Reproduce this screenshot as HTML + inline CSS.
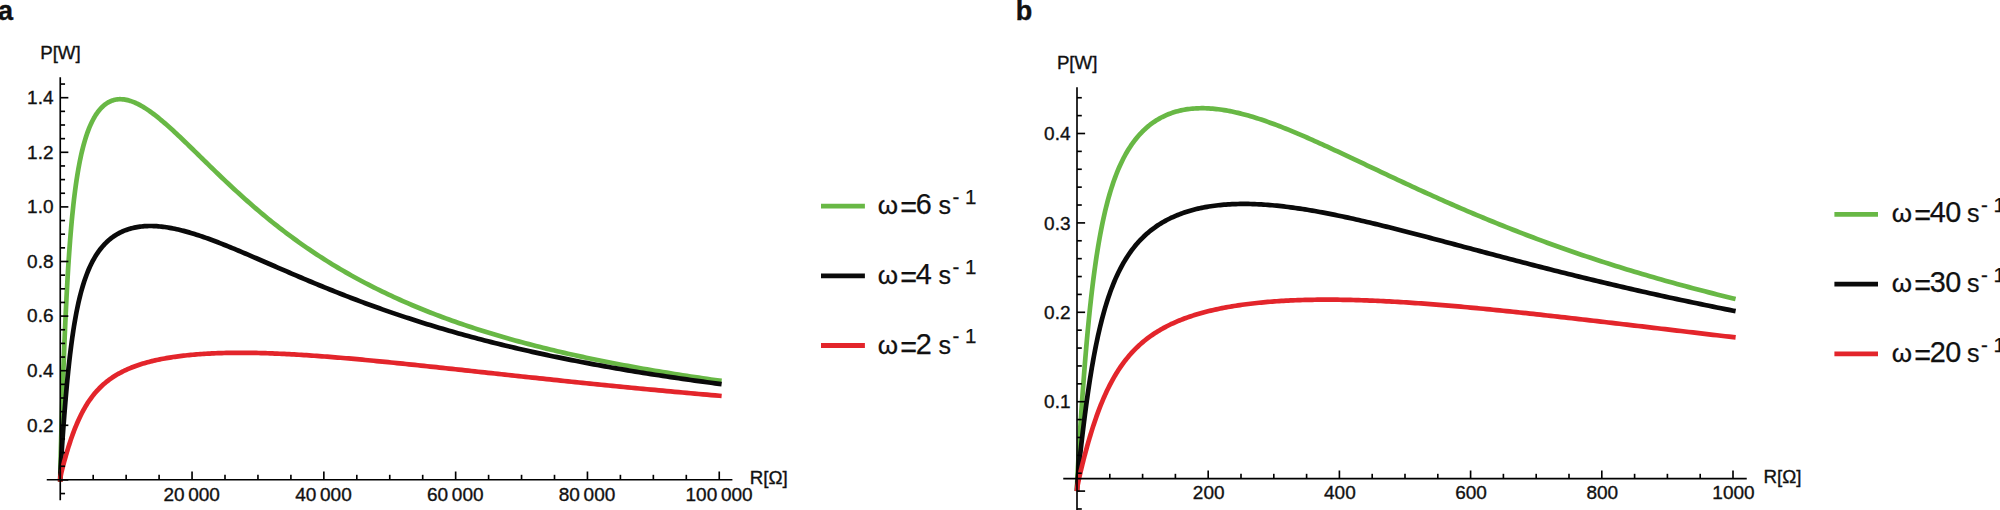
<!DOCTYPE html><html><head><meta charset="utf-8"><title>P vs R</title><style>html,body{margin:0;padding:0;background:#fff}svg{display:block}text{font-family:"Liberation Sans",sans-serif;fill:#111}</style></head><body>
<svg width="2000" height="510" viewBox="0 0 2000 510">
<rect width="2000" height="510" fill="#fff"/>
<text x="-2.00" y="19.90" font-size="27" text-anchor="start" font-weight="bold" stroke="#111" stroke-width="0.4">a</text>
<text x="1015.70" y="19.90" font-size="27" text-anchor="start" font-weight="bold" stroke="#111" stroke-width="0.4">b</text>
<path d="M60.23 481.60 L60.25 479.60 L60.26 477.82 L60.28 475.77 L60.31 473.46 L60.35 470.86 L60.41 467.97 L60.48 464.76 L60.57 461.23 L60.66 457.37 L60.77 453.18 L60.90 448.65 L61.03 443.78 L61.18 438.58 L61.34 433.04 L61.52 427.18 L61.71 421.00 L61.91 414.53 L62.12 407.78 L62.35 400.76 L62.59 393.52 L62.84 386.06 L63.11 378.41 L63.38 370.61 L63.68 362.68 L63.98 354.66 L64.30 346.57 L64.63 338.45 L64.97 330.31 L65.33 322.20 L65.70 314.13 L66.08 306.13 L66.47 298.23 L66.88 290.44 L67.30 282.79 L67.74 275.28 L68.18 267.93 L68.64 260.76 L69.12 253.77 L69.60 246.97 L70.10 240.37 L70.61 233.97 L71.14 227.77 L71.67 221.78 L72.22 215.99 L72.79 210.40 L73.36 205.01 L73.95 199.81 L74.56 194.81 L75.17 190.00 L75.80 185.37 L76.44 180.93 L77.10 176.65 L77.76 172.54 L78.44 168.60 L79.14 164.82 L79.84 161.18 L80.56 157.70 L81.29 154.35 L82.04 151.15 L82.79 148.07 L83.57 145.12 L84.35 142.30 L85.15 139.59 L85.96 137.00 L86.78 134.52 L87.61 132.15 L88.46 129.87 L89.32 127.70 L90.20 125.63 L91.08 123.65 L91.98 121.77 L92.90 119.97 L93.82 118.26 L94.76 116.63 L95.72 115.09 L96.68 113.62 L97.66 112.24 L98.65 110.93 L99.65 109.70 L100.67 108.54 L101.70 107.46 L102.74 106.45 L103.80 105.50 L104.87 104.63 L105.95 103.83 L107.04 103.09 L108.15 102.42 L109.27 101.82 L110.40 101.28 L111.55 100.80 L112.71 100.39 L113.88 100.04 L115.07 99.76 L116.26 99.53 L117.48 99.37 L118.70 99.26 L119.94 99.21 L121.19 99.23 L122.45 99.30 L123.73 99.42 L125.01 99.61 L126.32 99.84 L127.63 100.14 L128.96 100.49 L130.30 100.89 L131.65 101.35 L133.02 101.85 L134.40 102.41 L135.79 103.02 L137.20 103.68 L138.62 104.39 L140.05 105.15 L141.49 105.95 L142.95 106.80 L144.42 107.70 L145.90 108.64 L147.40 109.63 L148.91 110.66 L150.43 111.73 L151.96 112.84 L153.51 113.99 L155.07 115.18 L156.65 116.41 L158.23 117.68 L159.83 118.98 L161.44 120.32 L163.07 121.69 L164.71 123.10 L166.36 124.54 L168.02 126.00 L169.70 127.50 L171.39 129.03 L173.10 130.59 L174.81 132.17 L176.54 133.78 L178.28 135.42 L180.04 137.08 L181.81 138.76 L183.59 140.46 L185.38 142.19 L187.19 143.93 L189.01 145.69 L190.84 147.48 L192.69 149.27 L194.55 151.09 L196.42 152.92 L198.30 154.76 L200.20 156.62 L202.11 158.49 L204.03 160.37 L205.97 162.26 L207.92 164.16 L209.88 166.08 L211.86 167.99 L213.85 169.92 L215.85 171.85 L217.86 173.79 L219.89 175.73 L221.93 177.68 L223.98 179.63 L226.05 181.59 L228.13 183.54 L230.22 185.50 L232.32 187.46 L234.44 189.42 L236.57 191.37 L238.72 193.33 L240.87 195.28 L243.04 197.24 L245.22 199.19 L247.42 201.13 L249.63 203.08 L251.85 205.02 L254.08 206.95 L256.33 208.88 L258.59 210.80 L260.86 212.72 L263.15 214.63 L265.45 216.54 L267.76 218.44 L270.09 220.33 L272.42 222.21 L274.78 224.08 L277.14 225.95 L279.52 227.80 L281.91 229.65 L284.31 231.49 L286.72 233.32 L289.15 235.14 L291.60 236.95 L294.05 238.75 L296.52 240.53 L299.00 242.31 L301.49 244.08 L304.00 245.84 L306.52 247.58 L309.05 249.31 L311.59 251.04 L314.15 252.75 L316.72 254.45 L319.31 256.13 L321.91 257.81 L324.52 259.47 L327.14 261.12 L329.77 262.76 L332.42 264.39 L335.08 266.01 L337.76 267.61 L340.45 269.20 L343.15 270.78 L345.86 272.35 L348.59 273.90 L351.33 275.44 L354.08 276.97 L356.85 278.49 L359.62 279.99 L362.42 281.48 L365.22 282.96 L368.04 284.43 L370.87 285.88 L373.71 287.33 L376.57 288.76 L379.44 290.17 L382.32 291.58 L385.21 292.97 L388.12 294.36 L391.04 295.72 L393.97 297.08 L396.92 298.43 L399.88 299.76 L402.85 301.08 L405.84 302.39 L408.84 303.69 L411.85 304.98 L414.87 306.25 L417.91 307.51 L420.96 308.77 L424.03 310.01 L427.10 311.23 L430.19 312.45 L433.29 313.66 L436.41 314.85 L439.54 316.04 L442.68 317.21 L445.83 318.37 L449.00 319.52 L452.18 320.67 L455.37 321.80 L458.58 322.92 L461.80 324.02 L465.03 325.12 L468.27 326.21 L471.53 327.29 L474.80 328.36 L478.08 329.42 L481.38 330.46 L484.69 331.50 L488.01 332.53 L491.35 333.55 L494.70 334.56 L498.06 335.56 L501.43 336.55 L504.82 337.53 L508.22 338.50 L511.63 339.46 L515.06 340.42 L518.50 341.36 L521.95 342.30 L525.41 343.22 L528.89 344.14 L532.38 345.05 L535.89 345.95 L539.40 346.84 L542.93 347.73 L546.48 348.60 L550.03 349.47 L553.60 350.33 L557.18 351.18 L560.78 352.02 L564.38 352.86 L568.00 353.69 L571.64 354.51 L575.28 355.32 L578.94 356.12 L582.61 356.92 L586.30 357.71 L590.00 358.49 L593.71 359.26 L597.43 360.03 L601.17 360.79 L604.92 361.54 L608.68 362.29 L612.46 363.03 L616.25 363.76 L620.05 364.49 L623.86 365.21 L627.69 365.92 L631.53 366.63 L635.38 367.32 L639.25 368.02 L643.13 368.70 L647.02 369.38 L650.93 370.06 L654.85 370.73 L658.78 371.39 L662.72 372.04 L666.68 372.69 L670.65 373.34 L674.63 373.98 L678.63 374.61 L682.64 375.23 L686.66 375.86 L690.69 376.47 L694.74 377.08 L698.80 377.68 L702.88 378.28 L706.96 378.88 L711.06 379.47 L715.17 380.05 L719.30 380.63 L721.63 380.95" fill="none" stroke="#68b845" stroke-width="4.7" stroke-linejoin="round"/>
<path d="M60.21 481.60 L60.25 479.60 L60.26 478.64 L60.28 477.57 L60.31 476.38 L60.35 475.07 L60.41 473.62 L60.48 472.05 L60.57 470.34 L60.66 468.48 L60.77 466.48 L60.90 464.34 L61.03 462.04 L61.18 459.60 L61.34 457.00 L61.52 454.25 L61.71 451.36 L61.91 448.31 L62.12 445.13 L62.35 441.80 L62.59 438.34 L62.84 434.75 L63.11 431.04 L63.38 427.22 L63.68 423.29 L63.98 419.26 L64.30 415.15 L64.63 410.96 L64.97 406.70 L65.33 402.39 L65.70 398.03 L66.08 393.64 L66.47 389.23 L66.88 384.80 L67.30 380.38 L67.74 375.96 L68.18 371.56 L68.64 367.18 L69.12 362.84 L69.60 358.55 L70.10 354.30 L70.61 350.12 L71.14 345.99 L71.67 341.94 L72.22 337.96 L72.79 334.06 L73.36 330.24 L73.95 326.50 L74.56 322.85 L75.17 319.29 L75.80 315.81 L76.44 312.43 L77.10 309.14 L77.76 305.93 L78.44 302.82 L79.14 299.80 L79.84 296.87 L80.56 294.02 L81.29 291.26 L82.04 288.58 L82.79 285.99 L83.57 283.48 L84.35 281.05 L85.15 278.70 L85.96 276.42 L86.78 274.21 L87.61 272.08 L88.46 270.02 L89.32 268.03 L90.20 266.10 L91.08 264.23 L91.98 262.43 L92.90 260.69 L93.82 259.01 L94.76 257.38 L95.72 255.81 L96.68 254.30 L97.66 252.83 L98.65 251.42 L99.65 250.06 L100.67 248.74 L101.70 247.47 L102.74 246.25 L103.80 245.07 L104.87 243.93 L105.95 242.84 L107.04 241.79 L108.15 240.78 L109.27 239.80 L110.40 238.87 L111.55 237.97 L112.71 237.11 L113.88 236.29 L115.07 235.50 L116.26 234.75 L117.48 234.03 L118.70 233.35 L119.94 232.70 L121.19 232.08 L122.45 231.49 L123.73 230.94 L125.01 230.42 L126.32 229.93 L127.63 229.47 L128.96 229.04 L130.30 228.63 L131.65 228.26 L133.02 227.92 L134.40 227.61 L135.79 227.33 L137.20 227.07 L138.62 226.84 L140.05 226.64 L141.49 226.47 L142.95 226.33 L144.42 226.21 L145.90 226.12 L147.40 226.06 L148.91 226.02 L150.43 226.01 L151.96 226.02 L153.51 226.06 L155.07 226.13 L156.65 226.22 L158.23 226.33 L159.83 226.47 L161.44 226.64 L163.07 226.83 L164.71 227.04 L166.36 227.28 L168.02 227.54 L169.70 227.82 L171.39 228.13 L173.10 228.45 L174.81 228.81 L176.54 229.18 L178.28 229.57 L180.04 229.99 L181.81 230.42 L183.59 230.88 L185.38 231.36 L187.19 231.86 L189.01 232.38 L190.84 232.91 L192.69 233.47 L194.55 234.04 L196.42 234.64 L198.30 235.25 L200.20 235.88 L202.11 236.53 L204.03 237.19 L205.97 237.87 L207.92 238.57 L209.88 239.28 L211.86 240.01 L213.85 240.75 L215.85 241.51 L217.86 242.29 L219.89 243.07 L221.93 243.88 L223.98 244.69 L226.05 245.52 L228.13 246.36 L230.22 247.21 L232.32 248.08 L234.44 248.95 L236.57 249.84 L238.72 250.74 L240.87 251.65 L243.04 252.57 L245.22 253.49 L247.42 254.43 L249.63 255.38 L251.85 256.33 L254.08 257.30 L256.33 258.27 L258.59 259.25 L260.86 260.23 L263.15 261.23 L265.45 262.23 L267.76 263.23 L270.09 264.24 L272.42 265.26 L274.78 266.28 L277.14 267.31 L279.52 268.34 L281.91 269.38 L284.31 270.42 L286.72 271.46 L289.15 272.51 L291.60 273.56 L294.05 274.61 L296.52 275.66 L299.00 276.72 L301.49 277.78 L304.00 278.84 L306.52 279.90 L309.05 280.97 L311.59 282.03 L314.15 283.10 L316.72 284.16 L319.31 285.23 L321.91 286.29 L324.52 287.36 L327.14 288.43 L329.77 289.49 L332.42 290.55 L335.08 291.62 L337.76 292.68 L340.45 293.74 L343.15 294.80 L345.86 295.85 L348.59 296.91 L351.33 297.96 L354.08 299.01 L356.85 300.06 L359.62 301.10 L362.42 302.14 L365.22 303.18 L368.04 304.22 L370.87 305.25 L373.71 306.28 L376.57 307.31 L379.44 308.33 L382.32 309.35 L385.21 310.37 L388.12 311.38 L391.04 312.39 L393.97 313.39 L396.92 314.39 L399.88 315.39 L402.85 316.38 L405.84 317.36 L408.84 318.34 L411.85 319.32 L414.87 320.29 L417.91 321.26 L420.96 322.23 L424.03 323.18 L427.10 324.14 L430.19 325.09 L433.29 326.03 L436.41 326.97 L439.54 327.90 L442.68 328.83 L445.83 329.75 L449.00 330.67 L452.18 331.58 L455.37 332.49 L458.58 333.39 L461.80 334.29 L465.03 335.18 L468.27 336.06 L471.53 336.94 L474.80 337.82 L478.08 338.69 L481.38 339.55 L484.69 340.41 L488.01 341.26 L491.35 342.11 L494.70 342.95 L498.06 343.79 L501.43 344.62 L504.82 345.45 L508.22 346.27 L511.63 347.08 L515.06 347.89 L518.50 348.69 L521.95 349.49 L525.41 350.28 L528.89 351.07 L532.38 351.85 L535.89 352.63 L539.40 353.40 L542.93 354.16 L546.48 354.92 L550.03 355.68 L553.60 356.43 L557.18 357.17 L560.78 357.91 L564.38 358.64 L568.00 359.37 L571.64 360.09 L575.28 360.81 L578.94 361.52 L582.61 362.23 L586.30 362.93 L590.00 363.63 L593.71 364.32 L597.43 365.00 L601.17 365.68 L604.92 366.36 L608.68 367.03 L612.46 367.70 L616.25 368.36 L620.05 369.01 L623.86 369.66 L627.69 370.31 L631.53 370.95 L635.38 371.59 L639.25 372.22 L643.13 372.84 L647.02 373.47 L650.93 374.08 L654.85 374.70 L658.78 375.30 L662.72 375.91 L666.68 376.50 L670.65 377.10 L674.63 377.69 L678.63 378.27 L682.64 378.85 L686.66 379.43 L690.69 380.00 L694.74 380.57 L698.80 381.13 L702.88 381.69 L706.96 382.24 L711.06 382.79 L715.17 383.34 L719.30 383.88 L721.63 384.18" fill="none" stroke="#0a0a0a" stroke-width="4.7" stroke-linejoin="round"/>
<path d="M60.14 481.60 L60.25 479.60 L60.26 479.27 L60.28 478.91 L60.31 478.52 L60.35 478.10 L60.41 477.65 L60.48 477.16 L60.57 476.65 L60.66 476.10 L60.77 475.52 L60.90 474.90 L61.03 474.25 L61.18 473.56 L61.34 472.84 L61.52 472.08 L61.71 471.28 L61.91 470.45 L62.12 469.57 L62.35 468.66 L62.59 467.71 L62.84 466.73 L63.11 465.70 L63.38 464.64 L63.68 463.54 L63.98 462.41 L64.30 461.24 L64.63 460.04 L64.97 458.81 L65.33 457.54 L65.70 456.25 L66.08 454.92 L66.47 453.56 L66.88 452.18 L67.30 450.78 L67.74 449.35 L68.18 447.90 L68.64 446.42 L69.12 444.93 L69.60 443.43 L70.10 441.91 L70.61 440.38 L71.14 438.84 L71.67 437.28 L72.22 435.73 L72.79 434.17 L73.36 432.60 L73.95 431.04 L74.56 429.47 L75.17 427.91 L75.80 426.35 L76.44 424.80 L77.10 423.25 L77.76 421.72 L78.44 420.19 L79.14 418.68 L79.84 417.18 L80.56 415.70 L81.29 414.23 L82.04 412.77 L82.79 411.34 L83.57 409.92 L84.35 408.52 L85.15 407.14 L85.96 405.78 L86.78 404.44 L87.61 403.12 L88.46 401.82 L89.32 400.55 L90.20 399.30 L91.08 398.07 L91.98 396.86 L92.90 395.67 L93.82 394.51 L94.76 393.37 L95.72 392.25 L96.68 391.16 L97.66 390.09 L98.65 389.04 L99.65 388.01 L100.67 387.00 L101.70 386.02 L102.74 385.06 L103.80 384.11 L104.87 383.19 L105.95 382.29 L107.04 381.41 L108.15 380.55 L109.27 379.71 L110.40 378.89 L111.55 378.08 L112.71 377.30 L113.88 376.53 L115.07 375.78 L116.26 375.05 L117.48 374.34 L118.70 373.64 L119.94 372.96 L121.19 372.30 L122.45 371.65 L123.73 371.01 L125.01 370.39 L126.32 369.79 L127.63 369.20 L128.96 368.63 L130.30 368.07 L131.65 367.52 L133.02 366.98 L134.40 366.46 L135.79 365.95 L137.20 365.46 L138.62 364.98 L140.05 364.50 L141.49 364.04 L142.95 363.60 L144.42 363.16 L145.90 362.73 L147.40 362.32 L148.91 361.92 L150.43 361.52 L151.96 361.14 L153.51 360.77 L155.07 360.41 L156.65 360.06 L158.23 359.71 L159.83 359.38 L161.44 359.06 L163.07 358.74 L164.71 358.44 L166.36 358.14 L168.02 357.86 L169.70 357.58 L171.39 357.31 L173.10 357.05 L174.81 356.80 L176.54 356.56 L178.28 356.32 L180.04 356.10 L181.81 355.88 L183.59 355.67 L185.38 355.47 L187.19 355.27 L189.01 355.09 L190.84 354.91 L192.69 354.74 L194.55 354.57 L196.42 354.42 L198.30 354.27 L200.20 354.13 L202.11 353.99 L204.03 353.87 L205.97 353.75 L207.92 353.64 L209.88 353.53 L211.86 353.44 L213.85 353.35 L215.85 353.27 L217.86 353.19 L219.89 353.12 L221.93 353.06 L223.98 353.00 L226.05 352.95 L228.13 352.91 L230.22 352.88 L232.32 352.85 L234.44 352.83 L236.57 352.81 L238.72 352.81 L240.87 352.80 L243.04 352.81 L245.22 352.82 L247.42 352.84 L249.63 352.86 L251.85 352.89 L254.08 352.93 L256.33 352.97 L258.59 353.02 L260.86 353.07 L263.15 353.13 L265.45 353.20 L267.76 353.27 L270.09 353.35 L272.42 353.44 L274.78 353.53 L277.14 353.62 L279.52 353.73 L281.91 353.83 L284.31 353.95 L286.72 354.07 L289.15 354.19 L291.60 354.32 L294.05 354.46 L296.52 354.60 L299.00 354.74 L301.49 354.90 L304.00 355.05 L306.52 355.21 L309.05 355.38 L311.59 355.55 L314.15 355.73 L316.72 355.91 L319.31 356.10 L321.91 356.29 L324.52 356.49 L327.14 356.69 L329.77 356.90 L332.42 357.11 L335.08 357.32 L337.76 357.54 L340.45 357.76 L343.15 357.99 L345.86 358.23 L348.59 358.46 L351.33 358.70 L354.08 358.95 L356.85 359.20 L359.62 359.45 L362.42 359.71 L365.22 359.97 L368.04 360.23 L370.87 360.50 L373.71 360.77 L376.57 361.05 L379.44 361.33 L382.32 361.61 L385.21 361.90 L388.12 362.19 L391.04 362.48 L393.97 362.77 L396.92 363.07 L399.88 363.37 L402.85 363.68 L405.84 363.99 L408.84 364.30 L411.85 364.61 L414.87 364.93 L417.91 365.25 L420.96 365.57 L424.03 365.89 L427.10 366.22 L430.19 366.55 L433.29 366.88 L436.41 367.21 L439.54 367.55 L442.68 367.88 L445.83 368.22 L449.00 368.57 L452.18 368.91 L455.37 369.25 L458.58 369.60 L461.80 369.95 L465.03 370.30 L468.27 370.65 L471.53 371.01 L474.80 371.36 L478.08 371.72 L481.38 372.08 L484.69 372.44 L488.01 372.80 L491.35 373.16 L494.70 373.53 L498.06 373.89 L501.43 374.26 L504.82 374.62 L508.22 374.99 L511.63 375.36 L515.06 375.73 L518.50 376.10 L521.95 376.47 L525.41 376.84 L528.89 377.22 L532.38 377.59 L535.89 377.96 L539.40 378.34 L542.93 378.71 L546.48 379.09 L550.03 379.46 L553.60 379.84 L557.18 380.21 L560.78 380.59 L564.38 380.97 L568.00 381.34 L571.64 381.72 L575.28 382.10 L578.94 382.47 L582.61 382.85 L586.30 383.23 L590.00 383.60 L593.71 383.98 L597.43 384.36 L601.17 384.73 L604.92 385.11 L608.68 385.49 L612.46 385.86 L616.25 386.24 L620.05 386.61 L623.86 386.98 L627.69 387.36 L631.53 387.73 L635.38 388.10 L639.25 388.48 L643.13 388.85 L647.02 389.22 L650.93 389.59 L654.85 389.96 L658.78 390.33 L662.72 390.70 L666.68 391.07 L670.65 391.43 L674.63 391.80 L678.63 392.17 L682.64 392.53 L686.66 392.90 L690.69 393.26 L694.74 393.62 L698.80 393.98 L702.88 394.34 L706.96 394.70 L711.06 395.06 L715.17 395.42 L719.30 395.78 L721.64 395.98" fill="none" stroke="#e3252b" stroke-width="4.7" stroke-linejoin="round"/>
<line x1="46.75" y1="479.70" x2="732.40" y2="479.70" stroke="#000" stroke-width="1.65"/>
<line x1="60.25" y1="77.20" x2="60.25" y2="500.30" stroke="#000" stroke-width="1.65"/>
<line x1="60.25" y1="479.60" x2="60.25" y2="471.50" stroke="#000" stroke-width="1.65"/>
<line x1="93.20" y1="479.60" x2="93.20" y2="474.80" stroke="#000" stroke-width="1.65"/>
<line x1="126.15" y1="479.60" x2="126.15" y2="474.80" stroke="#000" stroke-width="1.65"/>
<line x1="159.10" y1="479.60" x2="159.10" y2="474.80" stroke="#000" stroke-width="1.65"/>
<line x1="192.05" y1="479.60" x2="192.05" y2="471.50" stroke="#000" stroke-width="1.65"/>
<line x1="225.00" y1="479.60" x2="225.00" y2="474.80" stroke="#000" stroke-width="1.65"/>
<line x1="257.95" y1="479.60" x2="257.95" y2="474.80" stroke="#000" stroke-width="1.65"/>
<line x1="290.90" y1="479.60" x2="290.90" y2="474.80" stroke="#000" stroke-width="1.65"/>
<line x1="323.85" y1="479.60" x2="323.85" y2="471.50" stroke="#000" stroke-width="1.65"/>
<line x1="356.80" y1="479.60" x2="356.80" y2="474.80" stroke="#000" stroke-width="1.65"/>
<line x1="389.75" y1="479.60" x2="389.75" y2="474.80" stroke="#000" stroke-width="1.65"/>
<line x1="422.70" y1="479.60" x2="422.70" y2="474.80" stroke="#000" stroke-width="1.65"/>
<line x1="455.65" y1="479.60" x2="455.65" y2="471.50" stroke="#000" stroke-width="1.65"/>
<line x1="488.60" y1="479.60" x2="488.60" y2="474.80" stroke="#000" stroke-width="1.65"/>
<line x1="521.55" y1="479.60" x2="521.55" y2="474.80" stroke="#000" stroke-width="1.65"/>
<line x1="554.50" y1="479.60" x2="554.50" y2="474.80" stroke="#000" stroke-width="1.65"/>
<line x1="587.45" y1="479.60" x2="587.45" y2="471.50" stroke="#000" stroke-width="1.65"/>
<line x1="620.40" y1="479.60" x2="620.40" y2="474.80" stroke="#000" stroke-width="1.65"/>
<line x1="653.35" y1="479.60" x2="653.35" y2="474.80" stroke="#000" stroke-width="1.65"/>
<line x1="686.30" y1="479.60" x2="686.30" y2="474.80" stroke="#000" stroke-width="1.65"/>
<line x1="719.25" y1="479.60" x2="719.25" y2="471.50" stroke="#000" stroke-width="1.65"/>
<line x1="60.25" y1="493.55" x2="65.05" y2="493.55" stroke="#000" stroke-width="1.65"/>
<line x1="60.25" y1="479.90" x2="68.35" y2="479.90" stroke="#000" stroke-width="1.65"/>
<line x1="60.25" y1="466.25" x2="65.05" y2="466.25" stroke="#000" stroke-width="1.65"/>
<line x1="60.25" y1="452.60" x2="65.05" y2="452.60" stroke="#000" stroke-width="1.65"/>
<line x1="60.25" y1="438.95" x2="65.05" y2="438.95" stroke="#000" stroke-width="1.65"/>
<line x1="60.25" y1="425.30" x2="68.35" y2="425.30" stroke="#000" stroke-width="1.65"/>
<line x1="60.25" y1="411.65" x2="65.05" y2="411.65" stroke="#000" stroke-width="1.65"/>
<line x1="60.25" y1="398.00" x2="65.05" y2="398.00" stroke="#000" stroke-width="1.65"/>
<line x1="60.25" y1="384.35" x2="65.05" y2="384.35" stroke="#000" stroke-width="1.65"/>
<line x1="60.25" y1="370.70" x2="68.35" y2="370.70" stroke="#000" stroke-width="1.65"/>
<line x1="60.25" y1="357.05" x2="65.05" y2="357.05" stroke="#000" stroke-width="1.65"/>
<line x1="60.25" y1="343.40" x2="65.05" y2="343.40" stroke="#000" stroke-width="1.65"/>
<line x1="60.25" y1="329.75" x2="65.05" y2="329.75" stroke="#000" stroke-width="1.65"/>
<line x1="60.25" y1="316.10" x2="68.35" y2="316.10" stroke="#000" stroke-width="1.65"/>
<line x1="60.25" y1="302.45" x2="65.05" y2="302.45" stroke="#000" stroke-width="1.65"/>
<line x1="60.25" y1="288.80" x2="65.05" y2="288.80" stroke="#000" stroke-width="1.65"/>
<line x1="60.25" y1="275.15" x2="65.05" y2="275.15" stroke="#000" stroke-width="1.65"/>
<line x1="60.25" y1="261.50" x2="68.35" y2="261.50" stroke="#000" stroke-width="1.65"/>
<line x1="60.25" y1="247.85" x2="65.05" y2="247.85" stroke="#000" stroke-width="1.65"/>
<line x1="60.25" y1="234.20" x2="65.05" y2="234.20" stroke="#000" stroke-width="1.65"/>
<line x1="60.25" y1="220.55" x2="65.05" y2="220.55" stroke="#000" stroke-width="1.65"/>
<line x1="60.25" y1="206.90" x2="68.35" y2="206.90" stroke="#000" stroke-width="1.65"/>
<line x1="60.25" y1="193.25" x2="65.05" y2="193.25" stroke="#000" stroke-width="1.65"/>
<line x1="60.25" y1="179.60" x2="65.05" y2="179.60" stroke="#000" stroke-width="1.65"/>
<line x1="60.25" y1="165.95" x2="65.05" y2="165.95" stroke="#000" stroke-width="1.65"/>
<line x1="60.25" y1="152.30" x2="68.35" y2="152.30" stroke="#000" stroke-width="1.65"/>
<line x1="60.25" y1="138.65" x2="65.05" y2="138.65" stroke="#000" stroke-width="1.65"/>
<line x1="60.25" y1="125.00" x2="65.05" y2="125.00" stroke="#000" stroke-width="1.65"/>
<line x1="60.25" y1="111.35" x2="65.05" y2="111.35" stroke="#000" stroke-width="1.65"/>
<line x1="60.25" y1="97.70" x2="68.35" y2="97.70" stroke="#000" stroke-width="1.65"/>
<line x1="60.25" y1="84.05" x2="65.05" y2="84.05" stroke="#000" stroke-width="1.65"/>
<text x="53.50" y="431.60" font-size="19" text-anchor="end" stroke="#111" stroke-width="0.35">0.2</text>
<text x="53.50" y="377.00" font-size="19" text-anchor="end" stroke="#111" stroke-width="0.35">0.4</text>
<text x="53.50" y="322.40" font-size="19" text-anchor="end" stroke="#111" stroke-width="0.35">0.6</text>
<text x="53.50" y="267.80" font-size="19" text-anchor="end" stroke="#111" stroke-width="0.35">0.8</text>
<text x="53.50" y="213.20" font-size="19" text-anchor="end" stroke="#111" stroke-width="0.35">1.0</text>
<text x="53.50" y="158.60" font-size="19" text-anchor="end" stroke="#111" stroke-width="0.35">1.2</text>
<text x="53.50" y="104.00" font-size="19" text-anchor="end" stroke="#111" stroke-width="0.35">1.4</text>
<text x="191.65" y="501.00" font-size="19" text-anchor="middle" stroke="#111" stroke-width="0.35">20<tspan dx="3.7">000</tspan></text>
<text x="323.45" y="501.00" font-size="19" text-anchor="middle" stroke="#111" stroke-width="0.35">40<tspan dx="3.7">000</tspan></text>
<text x="455.25" y="501.00" font-size="19" text-anchor="middle" stroke="#111" stroke-width="0.35">60<tspan dx="3.7">000</tspan></text>
<text x="587.05" y="501.00" font-size="19" text-anchor="middle" stroke="#111" stroke-width="0.35">80<tspan dx="3.7">000</tspan></text>
<text x="719.10" y="501.00" font-size="19" text-anchor="middle" stroke="#111" stroke-width="0.35">100<tspan dx="3.7">000</tspan></text>
<text x="40.20" y="59.00" font-size="18.7" text-anchor="start" stroke="#111" stroke-width="0.35">P[W]</text>
<text x="749.70" y="483.60" font-size="18.8" text-anchor="start" stroke="#111" stroke-width="0.35">R[&#937;]</text>
<path d="M1077.00 491.10 L1077.01 489.88 L1077.03 488.55 L1077.06 487.08 L1077.10 485.49 L1077.16 483.76 L1077.23 481.89 L1077.32 479.87 L1077.41 477.71 L1077.52 475.39 L1077.64 472.92 L1077.78 470.29 L1077.93 467.50 L1078.09 464.55 L1078.26 461.44 L1078.45 458.16 L1078.65 454.72 L1078.86 451.12 L1079.09 447.35 L1079.33 443.43 L1079.58 439.35 L1079.84 435.12 L1080.12 430.75 L1080.41 426.23 L1080.71 421.58 L1081.03 416.79 L1081.36 411.89 L1081.70 406.87 L1082.06 401.75 L1082.42 396.52 L1082.80 391.21 L1083.20 385.83 L1083.60 380.37 L1084.02 374.85 L1084.46 369.29 L1084.90 363.68 L1085.36 358.05 L1085.83 352.40 L1086.31 346.74 L1086.81 341.08 L1087.32 335.42 L1087.84 329.79 L1088.38 324.18 L1088.92 318.61 L1089.49 313.08 L1090.06 307.60 L1090.65 302.17 L1091.25 296.81 L1091.86 291.52 L1092.49 286.29 L1093.12 281.15 L1093.77 276.09 L1094.44 271.11 L1095.12 266.22 L1095.81 261.42 L1096.51 256.71 L1097.23 252.10 L1097.95 247.58 L1098.70 243.16 L1099.45 238.84 L1100.22 234.62 L1101.00 230.50 L1101.79 226.47 L1102.60 222.54 L1103.42 218.71 L1104.25 214.97 L1105.09 211.33 L1105.95 207.78 L1106.82 204.32 L1107.71 200.96 L1108.60 197.68 L1109.51 194.49 L1110.43 191.39 L1111.37 188.37 L1112.32 185.43 L1113.28 182.57 L1114.25 179.80 L1115.24 177.10 L1116.24 174.47 L1117.25 171.92 L1118.28 169.44 L1119.31 167.03 L1120.37 164.69 L1121.43 162.42 L1122.51 160.21 L1123.60 158.06 L1124.70 155.98 L1125.82 153.95 L1126.94 151.99 L1128.09 150.08 L1129.24 148.23 L1130.41 146.43 L1131.59 144.69 L1132.78 142.99 L1133.99 141.35 L1135.21 139.76 L1136.44 138.22 L1137.68 136.73 L1138.94 135.28 L1140.21 133.87 L1141.49 132.52 L1142.79 131.20 L1144.10 129.93 L1145.42 128.71 L1146.76 127.52 L1148.10 126.37 L1149.47 125.27 L1150.84 124.20 L1152.23 123.17 L1153.63 122.18 L1155.04 121.23 L1156.46 120.32 L1157.90 119.44 L1159.35 118.60 L1160.82 117.79 L1162.29 117.02 L1163.78 116.29 L1165.29 115.59 L1166.80 114.92 L1168.33 114.29 L1169.87 113.68 L1171.43 113.12 L1172.99 112.58 L1174.57 112.08 L1176.17 111.61 L1177.77 111.17 L1179.39 110.76 L1181.02 110.39 L1182.67 110.04 L1184.32 109.73 L1186.00 109.44 L1187.68 109.19 L1189.37 108.97 L1191.08 108.77 L1192.81 108.61 L1194.54 108.47 L1196.29 108.36 L1198.05 108.29 L1199.82 108.24 L1201.61 108.22 L1203.41 108.22 L1205.22 108.26 L1207.05 108.32 L1208.88 108.41 L1210.74 108.53 L1212.60 108.67 L1214.48 108.84 L1216.37 109.04 L1218.27 109.27 L1220.18 109.52 L1222.11 109.79 L1224.05 110.09 L1226.01 110.42 L1227.97 110.77 L1229.95 111.15 L1231.95 111.55 L1233.95 111.98 L1235.97 112.43 L1238.00 112.90 L1240.05 113.40 L1242.11 113.92 L1244.18 114.46 L1246.26 115.03 L1248.35 115.61 L1250.46 116.22 L1252.59 116.86 L1254.72 117.51 L1256.87 118.19 L1259.03 118.88 L1261.20 119.60 L1263.39 120.34 L1265.59 121.09 L1267.80 121.87 L1270.02 122.67 L1272.26 123.48 L1274.51 124.32 L1276.78 125.17 L1279.05 126.04 L1281.34 126.93 L1283.65 127.83 L1285.96 128.75 L1288.29 129.69 L1290.63 130.65 L1292.98 131.62 L1295.35 132.61 L1297.73 133.61 L1300.12 134.63 L1302.53 135.66 L1304.95 136.71 L1307.38 137.77 L1309.82 138.85 L1312.28 139.93 L1314.75 141.04 L1317.23 142.15 L1319.73 143.28 L1322.24 144.41 L1324.76 145.56 L1327.30 146.72 L1329.84 147.90 L1332.40 149.08 L1334.98 150.27 L1337.56 151.47 L1340.16 152.69 L1342.77 153.91 L1345.40 155.14 L1348.04 156.38 L1350.69 157.62 L1353.35 158.88 L1356.03 160.14 L1358.72 161.41 L1361.42 162.69 L1364.13 163.98 L1366.86 165.27 L1369.60 166.56 L1372.36 167.87 L1375.12 169.17 L1377.90 170.49 L1380.70 171.81 L1383.50 173.13 L1386.32 174.46 L1389.15 175.79 L1392.00 177.12 L1394.85 178.46 L1397.72 179.81 L1400.61 181.15 L1403.50 182.50 L1406.41 183.85 L1409.33 185.20 L1412.27 186.56 L1415.21 187.91 L1418.17 189.27 L1421.15 190.63 L1424.13 191.99 L1427.13 193.36 L1430.14 194.72 L1433.17 196.08 L1436.21 197.44 L1439.26 198.81 L1442.32 200.17 L1445.40 201.53 L1448.49 202.89 L1451.59 204.26 L1454.70 205.62 L1457.83 206.97 L1460.97 208.33 L1464.13 209.69 L1467.29 211.04 L1470.47 212.40 L1473.67 213.75 L1476.87 215.10 L1480.09 216.44 L1483.32 217.79 L1486.56 219.13 L1489.82 220.47 L1493.09 221.80 L1496.37 223.13 L1499.67 224.46 L1502.98 225.79 L1506.30 227.11 L1509.63 228.43 L1512.98 229.75 L1516.34 231.06 L1519.71 232.37 L1523.10 233.67 L1526.50 234.97 L1529.91 236.27 L1533.34 237.56 L1536.77 238.85 L1540.22 240.13 L1543.69 241.41 L1547.16 242.68 L1550.65 243.95 L1554.15 245.22 L1557.67 246.48 L1561.20 247.73 L1564.74 248.98 L1568.29 250.23 L1571.86 251.47 L1575.44 252.70 L1579.03 253.93 L1582.63 255.15 L1586.25 256.37 L1589.88 257.59 L1593.53 258.79 L1597.18 260.00 L1600.85 261.19 L1604.54 262.38 L1608.23 263.57 L1611.94 264.75 L1615.66 265.92 L1619.40 267.09 L1623.14 268.26 L1626.90 269.41 L1630.68 270.57 L1634.46 271.71 L1638.26 272.85 L1642.07 273.99 L1645.90 275.11 L1649.73 276.24 L1653.59 277.35 L1657.45 278.46 L1661.32 279.57 L1665.21 280.67 L1669.12 281.76 L1673.03 282.85 L1676.96 283.93 L1680.90 285.00 L1684.85 286.07 L1688.82 287.13 L1692.80 288.19 L1696.79 289.24 L1700.79 290.29 L1704.81 291.33 L1708.84 292.36 L1712.89 293.39 L1716.94 294.41 L1721.01 295.42 L1725.10 296.43 L1729.19 297.44 L1733.30 298.43 L1735.58 298.99" fill="none" stroke="#68b845" stroke-width="4.7" stroke-linejoin="round"/>
<path d="M1077.00 491.10 L1077.01 490.32 L1077.03 489.46 L1077.06 488.54 L1077.10 487.55 L1077.16 486.48 L1077.23 485.33 L1077.32 484.10 L1077.41 482.79 L1077.52 481.40 L1077.64 479.92 L1077.78 478.36 L1077.93 476.71 L1078.09 474.97 L1078.26 473.13 L1078.45 471.21 L1078.65 469.20 L1078.86 467.09 L1079.09 464.89 L1079.33 462.60 L1079.58 460.22 L1079.84 457.75 L1080.12 455.19 L1080.41 452.54 L1080.71 449.81 L1081.03 446.99 L1081.36 444.10 L1081.70 441.12 L1082.06 438.07 L1082.42 434.95 L1082.80 431.76 L1083.20 428.51 L1083.60 425.20 L1084.02 421.83 L1084.46 418.40 L1084.90 414.94 L1085.36 411.42 L1085.83 407.88 L1086.31 404.29 L1086.81 400.68 L1087.32 397.05 L1087.84 393.40 L1088.38 389.73 L1088.92 386.06 L1089.49 382.38 L1090.06 378.70 L1090.65 375.03 L1091.25 371.37 L1091.86 367.72 L1092.49 364.09 L1093.12 360.48 L1093.77 356.89 L1094.44 353.34 L1095.12 349.81 L1095.81 346.32 L1096.51 342.87 L1097.23 339.46 L1097.95 336.09 L1098.70 332.76 L1099.45 329.48 L1100.22 326.25 L1101.00 323.07 L1101.79 319.93 L1102.60 316.85 L1103.42 313.83 L1104.25 310.85 L1105.09 307.94 L1105.95 305.07 L1106.82 302.26 L1107.71 299.51 L1108.60 296.81 L1109.51 294.16 L1110.43 291.58 L1111.37 289.04 L1112.32 286.56 L1113.28 284.14 L1114.25 281.76 L1115.24 279.44 L1116.24 277.17 L1117.25 274.96 L1118.28 272.79 L1119.31 270.68 L1120.37 268.61 L1121.43 266.59 L1122.51 264.62 L1123.60 262.69 L1124.70 260.82 L1125.82 258.98 L1126.94 257.19 L1128.09 255.45 L1129.24 253.74 L1130.41 252.08 L1131.59 250.46 L1132.78 248.87 L1133.99 247.33 L1135.21 245.82 L1136.44 244.36 L1137.68 242.92 L1138.94 241.53 L1140.21 240.17 L1141.49 238.84 L1142.79 237.54 L1144.10 236.28 L1145.42 235.05 L1146.76 233.85 L1148.10 232.69 L1149.47 231.55 L1150.84 230.44 L1152.23 229.36 L1153.63 228.31 L1155.04 227.29 L1156.46 226.29 L1157.90 225.32 L1159.35 224.38 L1160.82 223.46 L1162.29 222.57 L1163.78 221.71 L1165.29 220.86 L1166.80 220.05 L1168.33 219.25 L1169.87 218.48 L1171.43 217.73 L1172.99 217.01 L1174.57 216.30 L1176.17 215.62 L1177.77 214.96 L1179.39 214.33 L1181.02 213.71 L1182.67 213.11 L1184.32 212.54 L1186.00 211.98 L1187.68 211.45 L1189.37 210.94 L1191.08 210.44 L1192.81 209.97 L1194.54 209.51 L1196.29 209.07 L1198.05 208.65 L1199.82 208.26 L1201.61 207.87 L1203.41 207.51 L1205.22 207.17 L1207.05 206.84 L1208.88 206.54 L1210.74 206.25 L1212.60 205.97 L1214.48 205.72 L1216.37 205.48 L1218.27 205.26 L1220.18 205.06 L1222.11 204.88 L1224.05 204.71 L1226.01 204.56 L1227.97 204.42 L1229.95 204.31 L1231.95 204.20 L1233.95 204.12 L1235.97 204.05 L1238.00 204.00 L1240.05 203.96 L1242.11 203.94 L1244.18 203.94 L1246.26 203.95 L1248.35 203.97 L1250.46 204.02 L1252.59 204.08 L1254.72 204.15 L1256.87 204.24 L1259.03 204.34 L1261.20 204.46 L1263.39 204.59 L1265.59 204.74 L1267.80 204.90 L1270.02 205.08 L1272.26 205.27 L1274.51 205.48 L1276.78 205.70 L1279.05 205.93 L1281.34 206.18 L1283.65 206.44 L1285.96 206.72 L1288.29 207.01 L1290.63 207.31 L1292.98 207.63 L1295.35 207.96 L1297.73 208.30 L1300.12 208.65 L1302.53 209.02 L1304.95 209.40 L1307.38 209.79 L1309.82 210.20 L1312.28 210.62 L1314.75 211.05 L1317.23 211.49 L1319.73 211.94 L1322.24 212.41 L1324.76 212.88 L1327.30 213.37 L1329.84 213.87 L1332.40 214.38 L1334.98 214.90 L1337.56 215.43 L1340.16 215.97 L1342.77 216.52 L1345.40 217.09 L1348.04 217.66 L1350.69 218.24 L1353.35 218.83 L1356.03 219.43 L1358.72 220.05 L1361.42 220.67 L1364.13 221.29 L1366.86 221.93 L1369.60 222.58 L1372.36 223.23 L1375.12 223.90 L1377.90 224.57 L1380.70 225.25 L1383.50 225.94 L1386.32 226.63 L1389.15 227.34 L1392.00 228.05 L1394.85 228.77 L1397.72 229.49 L1400.61 230.22 L1403.50 230.96 L1406.41 231.71 L1409.33 232.46 L1412.27 233.22 L1415.21 233.98 L1418.17 234.75 L1421.15 235.52 L1424.13 236.31 L1427.13 237.09 L1430.14 237.88 L1433.17 238.68 L1436.21 239.48 L1439.26 240.29 L1442.32 241.10 L1445.40 241.92 L1448.49 242.74 L1451.59 243.56 L1454.70 244.39 L1457.83 245.22 L1460.97 246.06 L1464.13 246.90 L1467.29 247.74 L1470.47 248.58 L1473.67 249.43 L1476.87 250.29 L1480.09 251.14 L1483.32 252.00 L1486.56 252.86 L1489.82 253.72 L1493.09 254.59 L1496.37 255.45 L1499.67 256.32 L1502.98 257.19 L1506.30 258.07 L1509.63 258.94 L1512.98 259.82 L1516.34 260.70 L1519.71 261.57 L1523.10 262.45 L1526.50 263.33 L1529.91 264.22 L1533.34 265.10 L1536.77 265.98 L1540.22 266.87 L1543.69 267.75 L1547.16 268.64 L1550.65 269.52 L1554.15 270.41 L1557.67 271.29 L1561.20 272.18 L1564.74 273.06 L1568.29 273.95 L1571.86 274.83 L1575.44 275.72 L1579.03 276.60 L1582.63 277.48 L1586.25 278.37 L1589.88 279.25 L1593.53 280.13 L1597.18 281.01 L1600.85 281.89 L1604.54 282.76 L1608.23 283.64 L1611.94 284.52 L1615.66 285.39 L1619.40 286.26 L1623.14 287.13 L1626.90 288.00 L1630.68 288.87 L1634.46 289.74 L1638.26 290.60 L1642.07 291.46 L1645.90 292.33 L1649.73 293.18 L1653.59 294.04 L1657.45 294.90 L1661.32 295.75 L1665.21 296.60 L1669.12 297.45 L1673.03 298.29 L1676.96 299.14 L1680.90 299.98 L1684.85 300.82 L1688.82 301.66 L1692.80 302.49 L1696.79 303.32 L1700.79 304.15 L1704.81 304.98 L1708.84 305.80 L1712.89 306.62 L1716.94 307.44 L1721.01 308.26 L1725.10 309.07 L1729.19 309.88 L1733.30 310.69 L1735.61 311.14" fill="none" stroke="#0a0a0a" stroke-width="4.7" stroke-linejoin="round"/>
<path d="M1077.00 491.10 L1077.01 490.68 L1077.03 490.22 L1077.06 489.74 L1077.10 489.22 L1077.16 488.67 L1077.23 488.09 L1077.32 487.48 L1077.41 486.82 L1077.52 486.14 L1077.64 485.41 L1077.78 484.65 L1077.93 483.85 L1078.09 483.02 L1078.26 482.14 L1078.45 481.22 L1078.65 480.27 L1078.86 479.27 L1079.09 478.24 L1079.33 477.16 L1079.58 476.04 L1079.84 474.88 L1080.12 473.68 L1080.41 472.44 L1080.71 471.16 L1081.03 469.84 L1081.36 468.48 L1081.70 467.08 L1082.06 465.64 L1082.42 464.17 L1082.80 462.65 L1083.20 461.10 L1083.60 459.51 L1084.02 457.89 L1084.46 456.24 L1084.90 454.55 L1085.36 452.84 L1085.83 451.09 L1086.31 449.31 L1086.81 447.51 L1087.32 445.69 L1087.84 443.84 L1088.38 441.96 L1088.92 440.07 L1089.49 438.16 L1090.06 436.23 L1090.65 434.28 L1091.25 432.33 L1091.86 430.36 L1092.49 428.38 L1093.12 426.39 L1093.77 424.40 L1094.44 422.40 L1095.12 420.40 L1095.81 418.40 L1096.51 416.40 L1097.23 414.40 L1097.95 412.40 L1098.70 410.41 L1099.45 408.43 L1100.22 406.45 L1101.00 404.48 L1101.79 402.53 L1102.60 400.59 L1103.42 398.65 L1104.25 396.74 L1105.09 394.84 L1105.95 392.96 L1106.82 391.09 L1107.71 389.24 L1108.60 387.41 L1109.51 385.60 L1110.43 383.81 L1111.37 382.05 L1112.32 380.30 L1113.28 378.58 L1114.25 376.88 L1115.24 375.20 L1116.24 373.55 L1117.25 371.92 L1118.28 370.31 L1119.31 368.73 L1120.37 367.17 L1121.43 365.64 L1122.51 364.13 L1123.60 362.64 L1124.70 361.18 L1125.82 359.75 L1126.94 358.34 L1128.09 356.95 L1129.24 355.59 L1130.41 354.25 L1131.59 352.94 L1132.78 351.64 L1133.99 350.38 L1135.21 349.13 L1136.44 347.91 L1137.68 346.71 L1138.94 345.54 L1140.21 344.38 L1141.49 343.25 L1142.79 342.14 L1144.10 341.05 L1145.42 339.98 L1146.76 338.94 L1148.10 337.91 L1149.47 336.90 L1150.84 335.92 L1152.23 334.95 L1153.63 334.00 L1155.04 333.07 L1156.46 332.16 L1157.90 331.27 L1159.35 330.39 L1160.82 329.53 L1162.29 328.69 L1163.78 327.87 L1165.29 327.06 L1166.80 326.27 L1168.33 325.50 L1169.87 324.74 L1171.43 323.99 L1172.99 323.27 L1174.57 322.55 L1176.17 321.85 L1177.77 321.17 L1179.39 320.50 L1181.02 319.84 L1182.67 319.20 L1184.32 318.57 L1186.00 317.96 L1187.68 317.36 L1189.37 316.77 L1191.08 316.19 L1192.81 315.63 L1194.54 315.07 L1196.29 314.53 L1198.05 314.01 L1199.82 313.49 L1201.61 312.98 L1203.41 312.49 L1205.22 312.01 L1207.05 311.54 L1208.88 311.08 L1210.74 310.63 L1212.60 310.19 L1214.48 309.76 L1216.37 309.34 L1218.27 308.93 L1220.18 308.54 L1222.11 308.15 L1224.05 307.77 L1226.01 307.40 L1227.97 307.04 L1229.95 306.69 L1231.95 306.35 L1233.95 306.02 L1235.97 305.70 L1238.00 305.39 L1240.05 305.09 L1242.11 304.79 L1244.18 304.51 L1246.26 304.23 L1248.35 303.96 L1250.46 303.71 L1252.59 303.46 L1254.72 303.21 L1256.87 302.98 L1259.03 302.76 L1261.20 302.54 L1263.39 302.33 L1265.59 302.13 L1267.80 301.94 L1270.02 301.76 L1272.26 301.58 L1274.51 301.41 L1276.78 301.25 L1279.05 301.10 L1281.34 300.96 L1283.65 300.82 L1285.96 300.69 L1288.29 300.57 L1290.63 300.46 L1292.98 300.36 L1295.35 300.26 L1297.73 300.17 L1300.12 300.08 L1302.53 300.01 L1304.95 299.94 L1307.38 299.88 L1309.82 299.83 L1312.28 299.78 L1314.75 299.74 L1317.23 299.71 L1319.73 299.69 L1322.24 299.67 L1324.76 299.66 L1327.30 299.66 L1329.84 299.66 L1332.40 299.67 L1334.98 299.69 L1337.56 299.72 L1340.16 299.75 L1342.77 299.79 L1345.40 299.83 L1348.04 299.88 L1350.69 299.94 L1353.35 300.01 L1356.03 300.08 L1358.72 300.16 L1361.42 300.24 L1364.13 300.33 L1366.86 300.43 L1369.60 300.54 L1372.36 300.65 L1375.12 300.76 L1377.90 300.89 L1380.70 301.02 L1383.50 301.15 L1386.32 301.30 L1389.15 301.44 L1392.00 301.60 L1394.85 301.76 L1397.72 301.92 L1400.61 302.10 L1403.50 302.27 L1406.41 302.46 L1409.33 302.65 L1412.27 302.84 L1415.21 303.04 L1418.17 303.25 L1421.15 303.46 L1424.13 303.68 L1427.13 303.90 L1430.14 304.13 L1433.17 304.36 L1436.21 304.60 L1439.26 304.85 L1442.32 305.09 L1445.40 305.35 L1448.49 305.61 L1451.59 305.87 L1454.70 306.14 L1457.83 306.42 L1460.97 306.70 L1464.13 306.98 L1467.29 307.27 L1470.47 307.56 L1473.67 307.86 L1476.87 308.16 L1480.09 308.47 L1483.32 308.78 L1486.56 309.10 L1489.82 309.42 L1493.09 309.74 L1496.37 310.07 L1499.67 310.41 L1502.98 310.74 L1506.30 311.08 L1509.63 311.43 L1512.98 311.78 L1516.34 312.13 L1519.71 312.49 L1523.10 312.85 L1526.50 313.21 L1529.91 313.58 L1533.34 313.95 L1536.77 314.33 L1540.22 314.71 L1543.69 315.09 L1547.16 315.47 L1550.65 315.86 L1554.15 316.25 L1557.67 316.65 L1561.20 317.04 L1564.74 317.45 L1568.29 317.85 L1571.86 318.26 L1575.44 318.66 L1579.03 319.08 L1582.63 319.49 L1586.25 319.91 L1589.88 320.33 L1593.53 320.75 L1597.18 321.18 L1600.85 321.60 L1604.54 322.03 L1608.23 322.47 L1611.94 322.90 L1615.66 323.34 L1619.40 323.78 L1623.14 324.22 L1626.90 324.66 L1630.68 325.10 L1634.46 325.55 L1638.26 326.00 L1642.07 326.45 L1645.90 326.90 L1649.73 327.36 L1653.59 327.81 L1657.45 328.27 L1661.32 328.73 L1665.21 329.19 L1669.12 329.65 L1673.03 330.11 L1676.96 330.58 L1680.90 331.04 L1684.85 331.51 L1688.82 331.97 L1692.80 332.44 L1696.79 332.91 L1700.79 333.38 L1704.81 333.86 L1708.84 334.33 L1712.89 334.80 L1716.94 335.28 L1721.01 335.75 L1725.10 336.23 L1729.19 336.70 L1733.30 337.18 L1735.63 337.45" fill="none" stroke="#e3252b" stroke-width="4.7" stroke-linejoin="round"/>
<line x1="1063.25" y1="478.60" x2="1746.75" y2="478.60" stroke="#000" stroke-width="1.65"/>
<line x1="1077.00" y1="87.25" x2="1077.00" y2="510.00" stroke="#000" stroke-width="1.65"/>
<line x1="1077.00" y1="478.60" x2="1077.00" y2="470.50" stroke="#000" stroke-width="1.65"/>
<line x1="1109.80" y1="478.60" x2="1109.80" y2="473.80" stroke="#000" stroke-width="1.65"/>
<line x1="1142.60" y1="478.60" x2="1142.60" y2="473.80" stroke="#000" stroke-width="1.65"/>
<line x1="1175.40" y1="478.60" x2="1175.40" y2="473.80" stroke="#000" stroke-width="1.65"/>
<line x1="1208.20" y1="478.60" x2="1208.20" y2="470.50" stroke="#000" stroke-width="1.65"/>
<line x1="1241.00" y1="478.60" x2="1241.00" y2="473.80" stroke="#000" stroke-width="1.65"/>
<line x1="1273.80" y1="478.60" x2="1273.80" y2="473.80" stroke="#000" stroke-width="1.65"/>
<line x1="1306.60" y1="478.60" x2="1306.60" y2="473.80" stroke="#000" stroke-width="1.65"/>
<line x1="1339.40" y1="478.60" x2="1339.40" y2="470.50" stroke="#000" stroke-width="1.65"/>
<line x1="1372.20" y1="478.60" x2="1372.20" y2="473.80" stroke="#000" stroke-width="1.65"/>
<line x1="1405.00" y1="478.60" x2="1405.00" y2="473.80" stroke="#000" stroke-width="1.65"/>
<line x1="1437.80" y1="478.60" x2="1437.80" y2="473.80" stroke="#000" stroke-width="1.65"/>
<line x1="1470.60" y1="478.60" x2="1470.60" y2="470.50" stroke="#000" stroke-width="1.65"/>
<line x1="1503.40" y1="478.60" x2="1503.40" y2="473.80" stroke="#000" stroke-width="1.65"/>
<line x1="1536.20" y1="478.60" x2="1536.20" y2="473.80" stroke="#000" stroke-width="1.65"/>
<line x1="1569.00" y1="478.60" x2="1569.00" y2="473.80" stroke="#000" stroke-width="1.65"/>
<line x1="1601.80" y1="478.60" x2="1601.80" y2="470.50" stroke="#000" stroke-width="1.65"/>
<line x1="1634.60" y1="478.60" x2="1634.60" y2="473.80" stroke="#000" stroke-width="1.65"/>
<line x1="1667.40" y1="478.60" x2="1667.40" y2="473.80" stroke="#000" stroke-width="1.65"/>
<line x1="1700.20" y1="478.60" x2="1700.20" y2="473.80" stroke="#000" stroke-width="1.65"/>
<line x1="1733.00" y1="478.60" x2="1733.00" y2="470.50" stroke="#000" stroke-width="1.65"/>
<line x1="1077.00" y1="508.98" x2="1081.80" y2="508.98" stroke="#000" stroke-width="1.65"/>
<line x1="1077.00" y1="491.10" x2="1085.10" y2="491.10" stroke="#000" stroke-width="1.65"/>
<line x1="1077.00" y1="473.22" x2="1081.80" y2="473.22" stroke="#000" stroke-width="1.65"/>
<line x1="1077.00" y1="455.34" x2="1081.80" y2="455.34" stroke="#000" stroke-width="1.65"/>
<line x1="1077.00" y1="437.46" x2="1081.80" y2="437.46" stroke="#000" stroke-width="1.65"/>
<line x1="1077.00" y1="419.58" x2="1081.80" y2="419.58" stroke="#000" stroke-width="1.65"/>
<line x1="1077.00" y1="401.70" x2="1085.10" y2="401.70" stroke="#000" stroke-width="1.65"/>
<line x1="1077.00" y1="383.82" x2="1081.80" y2="383.82" stroke="#000" stroke-width="1.65"/>
<line x1="1077.00" y1="365.94" x2="1081.80" y2="365.94" stroke="#000" stroke-width="1.65"/>
<line x1="1077.00" y1="348.06" x2="1081.80" y2="348.06" stroke="#000" stroke-width="1.65"/>
<line x1="1077.00" y1="330.18" x2="1081.80" y2="330.18" stroke="#000" stroke-width="1.65"/>
<line x1="1077.00" y1="312.30" x2="1085.10" y2="312.30" stroke="#000" stroke-width="1.65"/>
<line x1="1077.00" y1="294.42" x2="1081.80" y2="294.42" stroke="#000" stroke-width="1.65"/>
<line x1="1077.00" y1="276.54" x2="1081.80" y2="276.54" stroke="#000" stroke-width="1.65"/>
<line x1="1077.00" y1="258.66" x2="1081.80" y2="258.66" stroke="#000" stroke-width="1.65"/>
<line x1="1077.00" y1="240.78" x2="1081.80" y2="240.78" stroke="#000" stroke-width="1.65"/>
<line x1="1077.00" y1="222.90" x2="1085.10" y2="222.90" stroke="#000" stroke-width="1.65"/>
<line x1="1077.00" y1="205.02" x2="1081.80" y2="205.02" stroke="#000" stroke-width="1.65"/>
<line x1="1077.00" y1="187.14" x2="1081.80" y2="187.14" stroke="#000" stroke-width="1.65"/>
<line x1="1077.00" y1="169.26" x2="1081.80" y2="169.26" stroke="#000" stroke-width="1.65"/>
<line x1="1077.00" y1="151.38" x2="1081.80" y2="151.38" stroke="#000" stroke-width="1.65"/>
<line x1="1077.00" y1="133.50" x2="1085.10" y2="133.50" stroke="#000" stroke-width="1.65"/>
<line x1="1077.00" y1="115.62" x2="1081.80" y2="115.62" stroke="#000" stroke-width="1.65"/>
<line x1="1077.00" y1="97.74" x2="1081.80" y2="97.74" stroke="#000" stroke-width="1.65"/>
<text x="1070.50" y="408.30" font-size="19" text-anchor="end" stroke="#111" stroke-width="0.35">0.1</text>
<text x="1070.50" y="318.90" font-size="19" text-anchor="end" stroke="#111" stroke-width="0.35">0.2</text>
<text x="1070.50" y="229.50" font-size="19" text-anchor="end" stroke="#111" stroke-width="0.35">0.3</text>
<text x="1070.50" y="140.10" font-size="19" text-anchor="end" stroke="#111" stroke-width="0.35">0.4</text>
<text x="1208.70" y="499.30" font-size="19" text-anchor="middle" stroke="#111" stroke-width="0.35">200</text>
<text x="1339.90" y="499.30" font-size="19" text-anchor="middle" stroke="#111" stroke-width="0.35">400</text>
<text x="1471.10" y="499.30" font-size="19" text-anchor="middle" stroke="#111" stroke-width="0.35">600</text>
<text x="1602.30" y="499.30" font-size="19" text-anchor="middle" stroke="#111" stroke-width="0.35">800</text>
<text x="1733.50" y="499.30" font-size="19" text-anchor="middle" stroke="#111" stroke-width="0.35">1000</text>
<text x="1056.90" y="68.80" font-size="18.7" text-anchor="start" stroke="#111" stroke-width="0.35">P[W]</text>
<text x="1763.50" y="482.90" font-size="18.8" text-anchor="start" stroke="#111" stroke-width="0.35">R[&#937;]</text>
<line x1="821.00" y1="206.10" x2="864.90" y2="206.10" stroke="#68b845" stroke-width="4.8"/>
<text y="214.10" stroke="#111" stroke-width="0.25"><tspan x="877.85" font-size="26">&#969;</tspan><tspan x="900.15" dy="3.0" font-size="28.8">=</tspan><tspan x="915.65" dy="-3.0" font-size="28.8" letter-spacing="-0.5">6</tspan><tspan x="938.60" font-size="25">s</tspan><tspan x="952.60" dy="-10.1" font-size="20.5">-</tspan><tspan x="965.00" font-size="20.5">1</tspan></text>
<line x1="821.00" y1="275.80" x2="864.90" y2="275.80" stroke="#0a0a0a" stroke-width="4.8"/>
<text y="283.80" stroke="#111" stroke-width="0.25"><tspan x="877.85" font-size="26">&#969;</tspan><tspan x="900.15" dy="3.0" font-size="28.8">=</tspan><tspan x="915.65" dy="-3.0" font-size="28.8" letter-spacing="-0.5">4</tspan><tspan x="938.60" font-size="25">s</tspan><tspan x="952.60" dy="-10.1" font-size="20.5">-</tspan><tspan x="965.00" font-size="20.5">1</tspan></text>
<line x1="821.00" y1="345.50" x2="864.90" y2="345.50" stroke="#e3252b" stroke-width="4.8"/>
<text y="353.50" stroke="#111" stroke-width="0.25"><tspan x="877.85" font-size="26">&#969;</tspan><tspan x="900.15" dy="3.0" font-size="28.8">=</tspan><tspan x="915.65" dy="-3.0" font-size="28.8" letter-spacing="-0.5">2</tspan><tspan x="938.60" font-size="25">s</tspan><tspan x="952.60" dy="-10.1" font-size="20.5">-</tspan><tspan x="965.00" font-size="20.5">1</tspan></text>
<line x1="1834.40" y1="214.40" x2="1878.00" y2="214.40" stroke="#68b845" stroke-width="4.8"/>
<text y="222.40" stroke="#111" stroke-width="0.25"><tspan x="1891.85" font-size="26">&#969;</tspan><tspan x="1914.15" dy="3.0" font-size="28.8">=</tspan><tspan x="1929.65" dy="-3.0" font-size="28.8" letter-spacing="-0.5">40</tspan><tspan x="1967.10" font-size="25">s</tspan><tspan x="1981.10" dy="-10.1" font-size="20.5">-</tspan><tspan x="1993.40" font-size="20.5">1</tspan></text>
<line x1="1834.40" y1="284.10" x2="1878.00" y2="284.10" stroke="#0a0a0a" stroke-width="4.8"/>
<text y="292.10" stroke="#111" stroke-width="0.25"><tspan x="1891.85" font-size="26">&#969;</tspan><tspan x="1914.15" dy="3.0" font-size="28.8">=</tspan><tspan x="1929.65" dy="-3.0" font-size="28.8" letter-spacing="-0.5">30</tspan><tspan x="1967.10" font-size="25">s</tspan><tspan x="1981.10" dy="-10.1" font-size="20.5">-</tspan><tspan x="1993.40" font-size="20.5">1</tspan></text>
<line x1="1834.40" y1="353.80" x2="1878.00" y2="353.80" stroke="#e3252b" stroke-width="4.8"/>
<text y="361.80" stroke="#111" stroke-width="0.25"><tspan x="1891.85" font-size="26">&#969;</tspan><tspan x="1914.15" dy="3.0" font-size="28.8">=</tspan><tspan x="1929.65" dy="-3.0" font-size="28.8" letter-spacing="-0.5">20</tspan><tspan x="1967.10" font-size="25">s</tspan><tspan x="1981.10" dy="-10.1" font-size="20.5">-</tspan><tspan x="1993.40" font-size="20.5">1</tspan></text>
</svg></body></html>
